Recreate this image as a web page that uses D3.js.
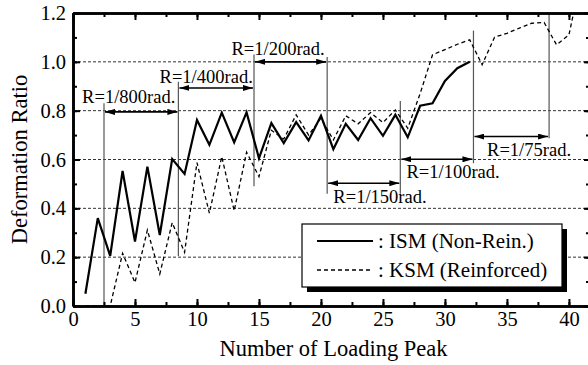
<!DOCTYPE html>
<html>
<head>
<meta charset="utf-8">
<script src="https://cdn.jsdelivr.net/npm/d3@7"></script>
<style>
  body { margin: 0; background: #fff; }
  svg { display: block; font-family: "Liberation Serif", "Times New Roman", serif; }
</style>
</head>
<body>
<svg id="chart" width="588" height="365"></svg>
<script>
//
// Data
//

// loading peak numbers
var peaksISM = d3.range(1, 33)
var peaksKSM = d3.range(1, 42)
// deformation ratio, ISM (non-reinforced)
var ism = [0.05, 0.36, 0.205, 0.553, 0.264, 0.571, 0.291, 0.602, 0.541, 0.762,
  0.66, 0.792, 0.67, 0.793, 0.605, 0.749, 0.667, 0.753, 0.678, 0.779,
  0.642, 0.746, 0.68, 0.769, 0.697, 0.783, 0.691, 0.82, 0.83, 0.922,
  0.974, 1.0]
// deformation ratio, KSM (reinforced)
var ksm = [0.0, 0.0, 0.0, 0.216, 0.096, 0.311, 0.131, 0.341, 0.22, 0.587,
  0.38, 0.612, 0.39, 0.63, 0.53, 0.72, 0.684, 0.783, 0.70, 0.769,
  0.68, 0.779, 0.746, 0.792, 0.751, 0.803, 0.728, 0.87, 1.029, 1.05,
  1.072, 1.09, 0.988, 1.101, 1.117, 1.138, 1.158, 1.161, 1.07, 1.11,
  1.35]
// drift angle stages
var stageLabels = ['R=1/800rad.', 'R=1/400rad.', 'R=1/200rad.', 'R=1/150rad.', 'R=1/100rad.', 'R=1/75rad.']
var stageStart = [2.5, 8.5, 14.6, 20.5, 26.4, 32.3]
var stageEnd = [8.5, 14.6, 20.5, 26.4, 32.3, 38.4]
var stageArrowY = [0.795, 0.893, 1.0, 0.503, 0.601, 0.694]
var stageLabelX = [8.25, 14.5, 20.3, 21.0, 26.9, 33.4]
var stageLabelY = [0.832, 0.914, 1.029, 0.422, 0.525, 0.613]
var stageLabelAnchor = ['end', 'end', 'end', 'start', 'start', 'start']
// vertical boundary lines
var boundX = [2.5, 8.5, 14.6, 20.5, 26.4, 32.3, 38.4]
var boundLow = [0, 0.205, 0.49, 0.46, 0.46, 0.585, 0.687]
var boundHigh = [0.83, 0.918, 1.03, 1.02, 0.84, 1.128, 1.2]
// ticks
var xTicks = [0, 5, 10, 15, 20, 25, 30, 35, 40]
var yTicks = [0, 0.2, 0.4, 0.6, 0.8, 1.0, 1.2]
var gridY = [0.2, 0.4, 0.6, 0.8, 1.0]

//
// Layout
//

var mLeft = 73, mRight = 590, mTop = 13, mBottom = 306
var svg = d3.select('#chart')
var x = d3.scaleLinear().domain([0, 41.7]).range([mLeft, mRight])
var y = d3.scaleLinear().domain([0, 1.2]).range([mBottom, mTop])

var defs = svg.append('defs')
defs.append('clipPath').attr('id', 'plot')
  .append('rect').attr('x', mLeft).attr('y', mTop)
  .attr('width', mRight - mLeft).attr('height', mBottom - mTop)

var arrow = defs.append('marker')
  .attr('id', 'arrow').attr('viewBox', '0 0 10 6')
  .attr('refX', 10).attr('refY', 3)
  .attr('markerWidth', 10).attr('markerHeight', 6)
  .attr('markerUnits', 'userSpaceOnUse')
  .attr('orient', 'auto-start-reverse')
arrow.append('path').attr('d', 'M0,0L10,3L0,6Z').attr('fill', '#000')

// grid
svg.append('g').selectAll('line').data(gridY).join('line')
  .attr('x1', mLeft).attr('x2', mRight)
  .attr('y1', d => y(d)).attr('y2', d => y(d))
  .attr('stroke', '#333').attr('stroke-width', 1)
  .attr('stroke-dasharray', '3,2')

// boundary lines
svg.append('g').selectAll('line').data(boundX).join('line')
  .attr('x1', d => x(d)).attr('x2', d => x(d))
  .attr('y1', (d, i) => y(boundLow[i])).attr('y2', (d, i) => y(boundHigh[i]))
  .attr('stroke', '#555').attr('stroke-width', 1.2)

// series
var line = d3.line().x(d => x(d[0])).y(d => y(d[1]))
var plot = svg.append('g').attr('clip-path', 'url(#plot)')
plot.append('path').datum(d3.zip(peaksKSM, ksm))
  .attr('d', line).attr('fill', 'none')
  .attr('stroke', '#000').attr('stroke-width', 1.3)
  .attr('stroke-dasharray', '4,3')
plot.append('path').datum(d3.zip(peaksISM, ism))
  .attr('d', line).attr('fill', 'none')
  .attr('stroke', '#000').attr('stroke-width', 2.2)

// stage arrows
svg.append('g').selectAll('line').data(stageLabels).join('line')
  .attr('x1', (d, i) => x(stageStart[i]) + 1).attr('x2', (d, i) => x(stageEnd[i]) - 1)
  .attr('y1', (d, i) => y(stageArrowY[i])).attr('y2', (d, i) => y(stageArrowY[i]))
  .attr('stroke', '#000').attr('stroke-width', 1.6)
  .attr('marker-start', 'url(#arrow)').attr('marker-end', 'url(#arrow)')
svg.append('g').selectAll('text').data(stageLabels).join('text')
  .attr('x', (d, i) => x(stageLabelX[i])).attr('y', (d, i) => y(stageLabelY[i]))
  .attr('text-anchor', (d, i) => stageLabelAnchor[i])
  .attr('font-size', 18.5).attr('fill', '#000')
  .text(d => d)

// axes
function inner(axis, size) {
  return axis.tickSizeInner(size).tickSizeOuter(0).tickPadding(8)
}
var xMinor = d3.range(0, 41.6, 2.5)
var yMinor = d3.range(0, 1.21, 0.1)

var gx = svg.append('g').attr('transform', 'translate(0,' + mBottom + ')')
gx.call(inner(d3.axisBottom(x).tickValues(xTicks).tickFormat(d3.format('d')), -7))
svg.append('g').attr('transform', 'translate(0,' + mTop + ')')
  .call(inner(d3.axisTop(x).tickValues(xTicks).tickFormat(''), -7))
var gy = svg.append('g').attr('transform', 'translate(' + mLeft + ',0)')
gy.call(inner(d3.axisLeft(y).tickValues(yTicks).tickFormat(d3.format('.1f')), -7))
svg.append('g').attr('transform', 'translate(' + mRight + ',0)')
  .call(inner(d3.axisRight(y).tickValues(yTicks).tickFormat(''), -6))

svg.append('g').attr('transform', 'translate(0,' + mBottom + ')')
  .call(inner(d3.axisBottom(x).tickValues(xMinor).tickFormat(''), -4))
svg.append('g').attr('transform', 'translate(0,' + mTop + ')')
  .call(inner(d3.axisTop(x).tickValues(xMinor).tickFormat(''), -4))
svg.append('g').attr('transform', 'translate(' + mLeft + ',0)')
  .call(inner(d3.axisLeft(y).tickValues(yMinor).tickFormat(''), -4))
svg.append('g').attr('transform', 'translate(' + mRight + ',0)')
  .call(inner(d3.axisRight(y).tickValues(yMinor).tickFormat(''), -4))

svg.selectAll('.domain').attr('stroke', '#000').attr('stroke-width', 2.6)
svg.selectAll('.tick line').attr('stroke', '#000').attr('stroke-width', 2)
svg.selectAll('.tick text').attr('font-size', 20.5).attr('fill', '#000')
  .attr('font-family', '"Liberation Serif", "Times New Roman", serif')
gy.selectAll('.tick text').attr('x', -7)
gx.selectAll('.tick text').attr('y', 5).attr('dy', '0.71em')

// axis titles
svg.append('text')
  .attr('x', (mLeft + mRight) / 2 + 2).attr('y', 356)
  .attr('text-anchor', 'middle').attr('font-size', 22.5)
  .text('Number of Loading Peak')
svg.append('text')
  .attr('transform', 'translate(27,' + (mTop + mBottom) / 2 + ') rotate(-90)')
  .attr('text-anchor', 'middle').attr('font-size', 22.5)
  .text('Deformation Ratio')

// legend
var legend = svg.append('g')
legend.append('rect').attr('x', 307).attr('y', 229).attr('width', 260).attr('height', 63)
  .attr('fill', '#000')
legend.append('rect').attr('x', 302).attr('y', 224).attr('width', 260).attr('height', 63)
  .attr('fill', '#fff').attr('stroke', '#000').attr('stroke-width', 1.2)
var legendNames = [': ISM (Non-Rein.)', ': KSM (Reinforced)']
var legendDash = [null, '4,3']
var legendWidth = [2.2, 1.3]
legend.selectAll('line').data(legendNames).join('line')
  .attr('x1', 317).attr('x2', 373)
  .attr('y1', (d, i) => 241 + i * 29).attr('y2', (d, i) => 241 + i * 29)
  .attr('stroke', '#000').attr('stroke-width', (d, i) => legendWidth[i])
  .attr('stroke-dasharray', (d, i) => legendDash[i])
legend.selectAll('text').data(legendNames).join('text')
  .attr('x', 378).attr('y', (d, i) => 248 + i * 29)
  .attr('font-size', 21).text(d => d)
</script>
</body>
</html>
